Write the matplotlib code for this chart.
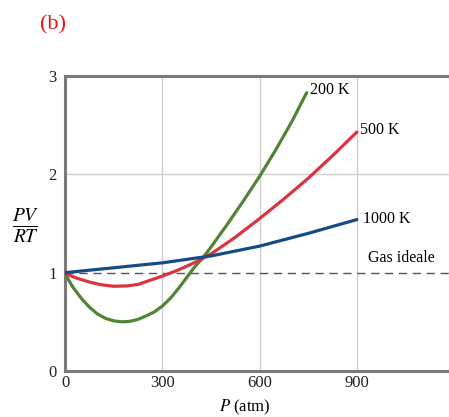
import matplotlib.pyplot as plt

# dati (P in atm, PV/RT)
p_200 = [0, 12, 25, 50, 75, 100, 125, 150, 175, 200, 225, 250, 275, 300, 325, 350, 375,
         400, 425, 450, 500, 550, 600, 650, 700, 745]
z_200 = [1.0, 0.92, 0.85, 0.74, 0.65, 0.58, 0.535, 0.51, 0.50, 0.505, 0.525, 0.56, 0.60, 0.66,
         0.74, 0.84, 0.95, 1.06, 1.15, 1.26, 1.49, 1.73, 1.98, 2.25, 2.54, 2.83]

p_500 = [0, 20, 40, 75, 110, 150, 190, 225, 260, 300, 340, 375, 410, 450, 525, 600, 675, 750, 825, 900]
z_500 = [1.0, 0.965, 0.94, 0.905, 0.878, 0.862, 0.865, 0.88, 0.92, 0.965, 1.015, 1.065, 1.12, 1.19,
         1.36, 1.55, 1.75, 1.96, 2.19, 2.43]

p_1000 = [0, 150, 300, 450, 600, 750, 900]
z_1000 = [1.0, 1.05, 1.10, 1.17, 1.27, 1.40, 1.54]

x_ticks = [0, 300, 600, 900]
y_ticks = [0, 1, 2, 3]

plt.rcParams['font.family'] = ['Liberation Serif', 'DejaVu Serif']
plt.rcParams['mathtext.fontset'] = 'stix'

fig = plt.figure(figsize=(4.49, 4.17), dpi=100)
ax = fig.add_axes([0.1448, 0.1103, 0.8552, 0.7074])

ax.set_xlim(0, 1184)
ax.set_ylim(0, 3)

# griglia chiara
for x in x_ticks[1:]:
    ax.axvline(x, color='#cfcfcf', lw=1.0, zorder=0)
ax.axhline(2, color='#cfcfcf', lw=1.0, zorder=0)

# gas ideale
ax.axhline(1, color='#555555', lw=1.0, ls=(0, (6, 4)), zorder=1)

ax.plot(p_200, z_200, color='#4f8535', lw=2.3, zorder=3, solid_capstyle='round')
ax.plot(p_500, z_500, color='#d8353f', lw=2.3, zorder=3, solid_capstyle='round')
ax.plot(p_1000, z_1000, color='#144d86', lw=2.3, zorder=4, solid_capstyle='round')

ax.text(755, 2.86, '200 K', fontsize=11.5, va='center', ha='left')
ax.text(910, 2.45, '500 K', fontsize=11.5, va='center', ha='left')
ax.text(920, 1.55, '1000 K', fontsize=11.5, va='center', ha='left')
ax.text(935, 1.15, 'Gas ideale', fontsize=11.5, va='center', ha='left')

ax.set_xticks(x_ticks)
ax.set_yticks(y_ticks)
ax.tick_params(length=0, labelsize=12, colors='#222222')
ax.tick_params(axis='x', pad=3)
ax.tick_params(axis='y', pad=6)

for side in ['left', 'bottom', 'top']:
    ax.spines[side].set_color('#7a7a7a')
    ax.spines[side].set_linewidth(2.2)
ax.spines['right'].set_visible(False)

fig.text(0.545, 0.0, r'$P$ (atm)', fontsize=12, ha='center', va='bottom')
fig.text(0.057, 0.46, r'$\frac{PV}{RT}$', fontsize=20, ha='center', va='center')
fig.text(0.09, 0.94, '(b)', fontsize=16, color='#ee1111', ha='left', va='center')

plt.savefig('out.png', dpi=100)
